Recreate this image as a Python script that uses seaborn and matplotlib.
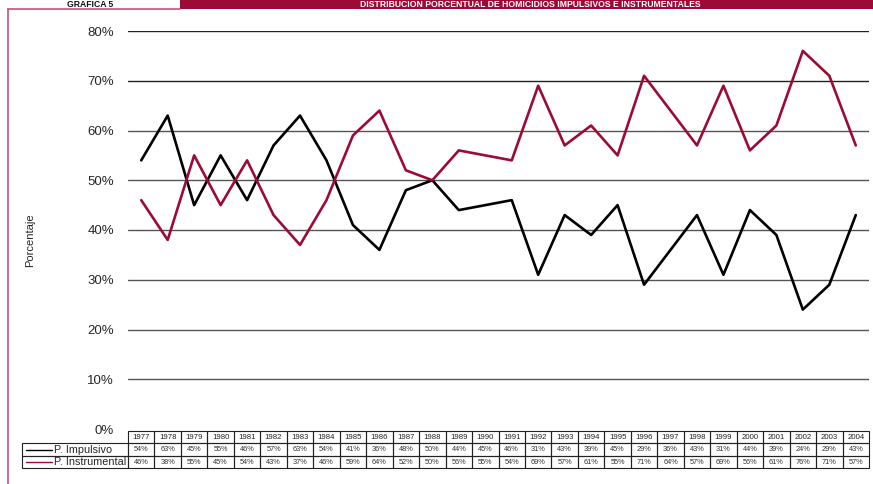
import numpy as np
import pandas as pd
import matplotlib
matplotlib.use("Agg")
import matplotlib.pyplot as plt
from matplotlib.patches import Rectangle
from matplotlib.lines import Line2D
import seaborn as sns

years = list(range(1977, 2005))
impulsivo = [54, 63, 45, 55, 46, 57, 63, 54, 41, 36, 48, 50, 44, 45, 46, 31, 43, 39, 45, 29, 36, 43, 31, 44, 39, 24, 29, 43]
instrumental = [46, 38, 55, 45, 54, 43, 37, 46, 59, 64, 52, 50, 56, 55, 54, 69, 57, 61, 55, 71, 64, 57, 69, 56, 61, 76, 71, 57]
series_names = ["P. Impulsivo", "P. Instrumental"]
y_ticks = [0, 10, 20, 30, 40, 50, 60, 70, 80]
title_left = "GRÁFICA 5"
title_right = "DISTRIBUCIÓN PORCENTUAL DE HOMICIDIOS IMPULSIVOS E INSTRUMENTALES"
y_label = "Porcentaje"

RED = "#9b0b36"
colors = ["#000000", RED]

sns.set_style("white")
plt.rcParams["font.family"] = ["Liberation Sans", "DejaVu Sans"]

W, H = 873, 484
fig = plt.figure(figsize=(W / 100, H / 100), dpi=100)

def fx(px):
    return px / W

def fy(py):
    return 1 - py / H

left_px, right_px, top_px, bot_px = 128, 869, 31, 429
ax = fig.add_axes([fx(left_px), fy(bot_px), fx(right_px - left_px), (bot_px - top_px) / H])

idx = np.arange(len(years))
df = pd.DataFrame({
    "idx": np.concatenate([idx, idx]),
    "val": np.array(impulsivo + instrumental) / 100.0,
    "serie": [series_names[0]] * len(years) + [series_names[1]] * len(years),
})
sns.lineplot(data=df, x="idx", y="val", hue="serie", palette=colors, linewidth=1.9,
             ax=ax, legend=False, zorder=3)

ax.set_xlim(-0.5, len(years) - 0.5)
ax.set_ylim(0, 0.8)
ax.set_yticks([t / 100 for t in y_ticks])
ax.set_yticklabels([f"{t}%" for t in y_ticks], fontsize=9.5)
ax.set_xticks([])
ax.set_xlabel("")
ax.set_ylabel("")
for t in y_ticks[1:]:
    ax.axhline(t / 100, color="#222222" if t >= 70 else "#555555", linewidth=1.0, zorder=1)
for s in ax.spines.values():
    s.set_visible(False)
ax.tick_params(axis="y", length=0, pad=10)

fig.text(fx(30), fy(240), y_label, rotation=90, fontsize=8, ha="center", va="center")

# Table
trans = fig.transFigure
tbl_top, row_h = 431, 12.4
col_w = (right_px - left_px) / len(years)
lbl_left = 22
lw = 0.8
for i, yr in enumerate(years):
    x0 = left_px + i * col_w
    fig.patches.append(Rectangle((fx(x0), fy(tbl_top + row_h)), fx(col_w), row_h / H,
                                 transform=trans, fill=False, edgecolor="#222222", linewidth=lw))
    fig.text(fx(x0 + col_w / 2), fy(tbl_top + row_h / 2), str(yr), fontsize=5.6,
             ha="center", va="center", color="#222222")
rows = [impulsivo, instrumental]
for r, vals in enumerate(rows):
    y0 = tbl_top + row_h * (r + 1)
    fig.patches.append(Rectangle((fx(lbl_left), fy(y0 + row_h)), fx(left_px - lbl_left), row_h / H,
                                 transform=trans, fill=False, edgecolor="#222222", linewidth=lw))
    fig.lines.append(Line2D([fx(26), fx(52)], [fy(y0 + row_h / 2)] * 2, transform=trans,
                            color=colors[r], linewidth=1.0))
    fig.text(fx(54), fy(y0 + row_h / 2), series_names[r], fontsize=7.8, ha="left", va="center")
    for i, v in enumerate(vals):
        x0 = left_px + i * col_w
        fig.patches.append(Rectangle((fx(x0), fy(y0 + row_h)), fx(col_w), row_h / H,
                                     transform=trans, fill=False, edgecolor="#222222", linewidth=lw))
        fig.text(fx(x0 + col_w / 2), fy(y0 + row_h / 2), f"{v}%", fontsize=5.3,
                 ha="center", va="center", color="#333333")

# Frame and header
fig.lines.append(Line2D([fx(8), fx(8)], [fy(9), 0], transform=trans, color="#c8507a", linewidth=1.2))
fig.lines.append(Line2D([fx(8), fx(180)], [fy(9), fy(9)], transform=trans, color="#c8507a", linewidth=1.2))
fig.patches.append(Rectangle((fx(180), fy(9)), fx(W - 180), 9 / H, transform=trans,
                             facecolor=RED, edgecolor="none"))
fig.text(fx(90), fy(4.3), title_left, fontsize=6.2, fontweight="bold", ha="center", va="center",
         color="#111111")
fig.text(fx(530), fy(4.3), title_right, fontsize=6.2, fontweight="bold", ha="center", va="center",
         color="white")

fig.savefig("out.png", dpi=100)
